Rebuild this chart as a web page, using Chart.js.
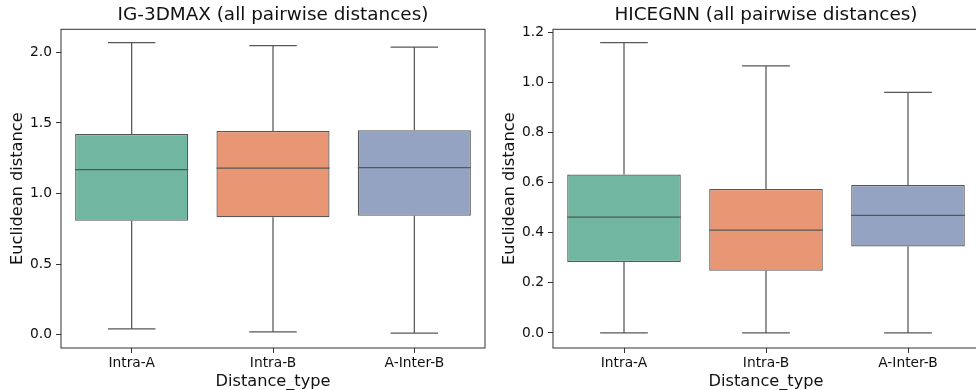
<!DOCTYPE html>
<html>
<head>
<meta charset="utf-8">
<script src="https://cdn.jsdelivr.net/npm/chart.js@4.4.1/dist/chart.umd.min.js"></script>
<style>
  html, body { margin: 0; padding: 0; background: #fff; overflow: hidden; }
  #wrap { position: relative; width: 976px; height: 390px; overflow: hidden; }
  #left { position: absolute; left: 0; top: 0; }
  #right { position: absolute; left: 488px; top: 0; }
</style>
</head>
<body>
<div id="wrap">
  <canvas id="left" width="488" height="390"></canvas>
  <canvas id="right" width="492" height="390"></canvas>
</div>
<script>
const categories = ['Intra-A', 'Intra-B', 'A-Inter-B']

// IG-3DMAX box stats
const igMin = [0.042, 0.021, 0.012]
const igQ1 = [0.807, 0.832, 0.844]
const igMedian = [1.170, 1.181, 1.184]
const igQ3 = [1.422, 1.443, 1.448]
const igMax = [2.068, 2.047, 2.037]
const igTicks = [0, 0.5, 1.0, 1.5, 2.0]

// HICEGNN box stats
const hcMin = [0, 0, 0]
const hcQ1 = [0.283, 0.248, 0.345]
const hcMedian = [0.462, 0.410, 0.469]
const hcQ3 = [0.632, 0.574, 0.590]
const hcMax = [1.158, 1.065, 0.959]
const hcTicks = [0, 0.2, 0.4, 0.6, 0.8, 1.0, 1.2]

const boxColors = ['#71b6a1', '#e99675', '#95a3c3']
const lineColor = '#575757'
const frameColor = '#333333'
const font = 'DejaVu Sans'

// whiskers, caps, medians, the full frame and a title centred on the axes
const boxPlotPlugin = {
  id: 'boxPlot',
  afterDatasetsDraw(chart) {
    const { ctx, chartArea, scales } = chart
    const stats = chart.options.plugins.boxPlot
    const meta = chart.getDatasetMeta(0)
    ctx.save()
    ctx.strokeStyle = lineColor
    ctx.lineWidth = 1.25
    meta.data.forEach((bar, i) => {
      const x = bar.x
      const w = bar.width
      const capW = w * 0.21
      const yMin = scales.y.getPixelForValue(stats.min[i])
      const yQ1 = scales.y.getPixelForValue(stats.q1[i])
      const yMed = scales.y.getPixelForValue(stats.median[i])
      const yQ3 = scales.y.getPixelForValue(stats.q3[i])
      const yMax = scales.y.getPixelForValue(stats.max[i])
      ctx.beginPath()
      ctx.moveTo(x, yQ1); ctx.lineTo(x, yMin)
      ctx.moveTo(x - capW, yMin); ctx.lineTo(x + capW, yMin)
      ctx.moveTo(x, yQ3); ctx.lineTo(x, yMax)
      ctx.moveTo(x - capW, yMax); ctx.lineTo(x + capW, yMax)
      ctx.moveTo(x - w / 2, yMed); ctx.lineTo(x + w / 2, yMed)
      ctx.stroke()
    })
    ctx.strokeStyle = frameColor
    ctx.lineWidth = 1
    ctx.strokeRect(chartArea.left, chartArea.top, chartArea.right - chartArea.left, chartArea.bottom - chartArea.top)

    ctx.fillStyle = '#111'
    ctx.font = `18.4px "${font}"`
    ctx.textAlign = 'center'
    ctx.textBaseline = 'middle'
    ctx.fillText(stats.title, (chartArea.left + chartArea.right) / 2, 15)
    ctx.restore()
  }
}

const makeBoxChart = (id, opts) => {
  const ctx = document.getElementById(id).getContext('2d')
  return new Chart(ctx, {
    type: 'bar',
    data: {
      labels: categories,
      datasets: [{
        data: opts.q1.map((v, i) => [v, opts.q3[i]]),
        backgroundColor: boxColors,
        borderColor: lineColor,
        borderWidth: 1.25,
        borderSkipped: false,
        categoryPercentage: 1,
        barPercentage: 0.8
      }]
    },
    options: {
      responsive: false,
      animation: false,
      layout: { padding: { left: 0, right: opts.padRight, top: 29.3, bottom: 0 } },
      plugins: {
        legend: { display: false },
        tooltip: { enabled: false },
        title: { display: false },
        boxPlot: {
          title: opts.title,
          min: opts.min, q1: opts.q1, median: opts.median, q3: opts.q3, max: opts.max
        }
      },
      scales: {
        x: {
          grid: { offset: false, drawOnChartArea: false, drawTicks: true, tickLength: 5, color: frameColor },
          border: { display: false },
          ticks: { color: '#111', padding: 2, font: { family: font, size: 13.8 } },
          title: {
            display: true,
            text: 'Distance_type',
            color: '#111',
            font: { family: font, size: 16.2 },
            padding: { top: 0, bottom: -2 }
          },
          afterFit: (scale) => { scale.height = 42 }
        },
        y: {
          min: opts.range[0],
          max: opts.range[1],
          grid: { drawOnChartArea: false, drawTicks: true, tickLength: 5, color: frameColor },
          border: { display: false },
          afterBuildTicks: (scale) => { scale.ticks = opts.ticks.map(v => ({ value: v })) },
          ticks: {
            color: '#111',
            padding: 4,
            font: { family: font, size: 13.8 },
            callback: (value) => Number(value).toFixed(1)
          },
          title: {
            display: true,
            text: 'Euclidean distance',
            color: '#111',
            font: { family: font, size: 16.2 },
            padding: { top: opts.yTitlePad, bottom: 0 }
          },
          afterFit: (scale) => { scale.width = opts.yWidth }
        }
      }
    },
    plugins: [boxPlotPlugin]
  })
}

makeBoxChart('left', {
  title: 'IG-3DMAX (all pairwise distances)',
  min: igMin, q1: igQ1, median: igMedian, q3: igQ3, max: igMax,
  ticks: igTicks,
  range: [-0.093, 2.163],
  yWidth: 61,
  yTitlePad: 7.6,
  padRight: 3
})

makeBoxChart('right', {
  title: 'HICEGNN (all pairwise distances)',
  min: hcMin, q1: hcQ1, median: hcMedian, q3: hcQ3, max: hcMax,
  ticks: hcTicks,
  range: [-0.060, 1.211],
  yWidth: 65,
  yTitlePad: 11.6,
  padRight: 1
})
</script>
</body>
</html>
